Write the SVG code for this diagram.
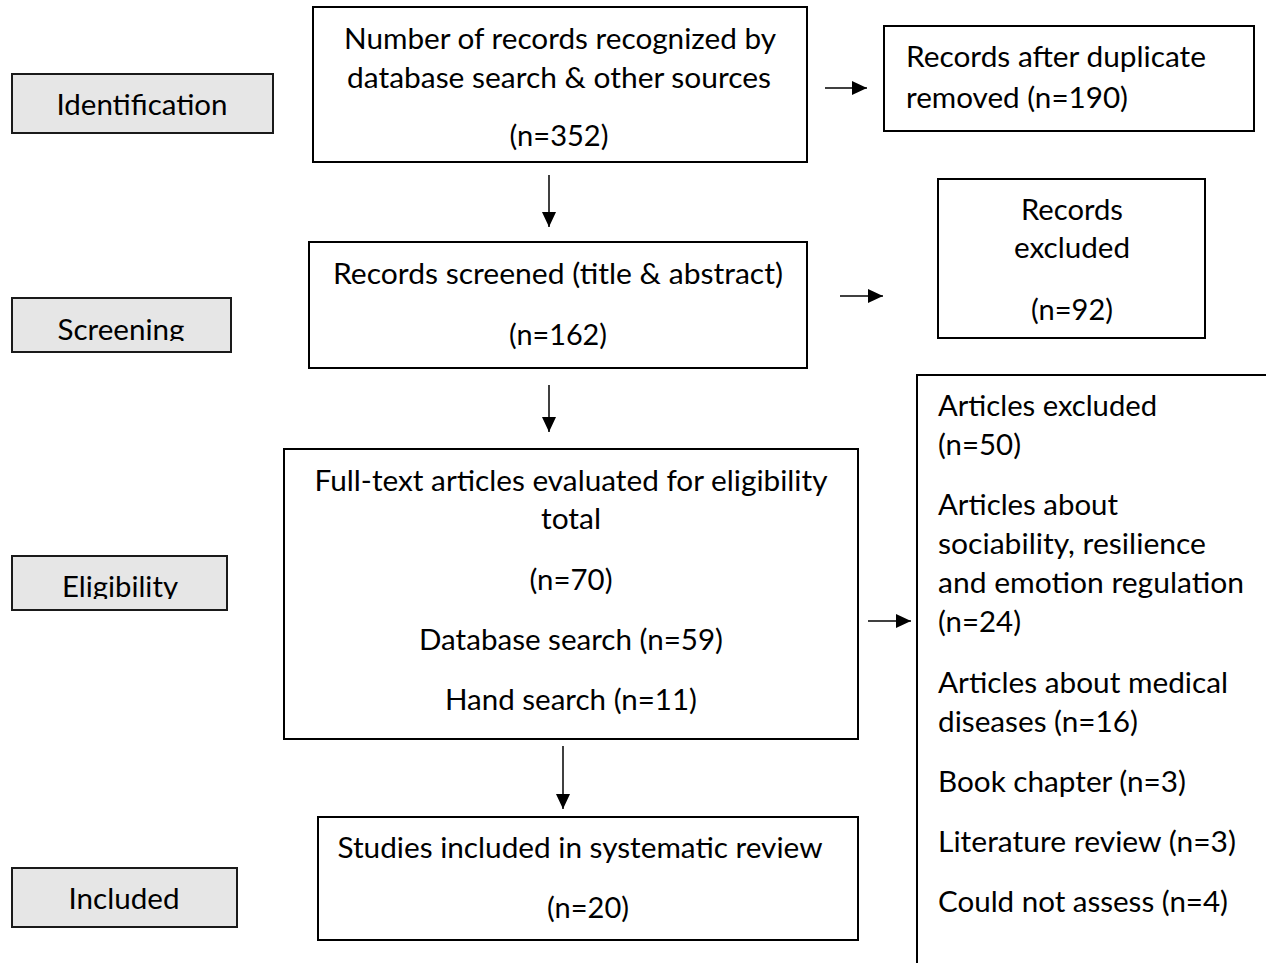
<svg xmlns="http://www.w3.org/2000/svg" width="1266" height="963" viewBox="0 0 1266 963">
<style>
.box{fill:#fff;stroke:#000;stroke-width:2}
.lab{fill:#e6e6e6;stroke:#1a1a1a;stroke-width:2}
text{font-family:Lato,"Open Sans",sans-serif;font-size:29px;fill:#000}
.c{text-anchor:middle}
.conn line{stroke:#000;stroke-width:1.5}
</style>
<defs>
<marker id="ah" viewBox="0 0 15 14" refX="15" refY="7" markerWidth="15" markerHeight="14" markerUnits="userSpaceOnUse" orient="auto"><path d="M0,0 L15,7 L0,14 Z" fill="#000"/></marker>
<clipPath id="clipS"><rect x="12" y="298" width="220" height="43"/></clipPath>
<clipPath id="clipE"><rect x="12" y="556" width="216" height="43"/></clipPath>
</defs>
<g id="stage-identification"><rect class="lab" x="12" y="74" width="261" height="59"/><text class="c" x="142" y="115" textLength="171" lengthAdjust="spacingAndGlyphs">Identification</text></g>
<g id="stage-screening"><rect class="lab" x="12" y="298" width="219" height="54"/><text class="c" x="121" y="340" textLength="127" lengthAdjust="spacingAndGlyphs" clip-path="url(#clipS)">Screening</text></g>
<g id="stage-eligibility"><rect class="lab" x="12" y="556" width="215" height="54"/><text class="c" x="120" y="597" textLength="116" lengthAdjust="spacingAndGlyphs" clip-path="url(#clipE)">Eligibility</text></g>
<g id="stage-included"><rect class="lab" x="12" y="868" width="225" height="59"/><text class="c" x="124" y="909" textLength="111" lengthAdjust="spacingAndGlyphs">Included</text></g>

<g id="n-identified"><rect class="box" x="313" y="7" width="494" height="155"/>
<text class="c" x="560" y="49" textLength="432" lengthAdjust="spacingAndGlyphs">Number of records recognized by</text>
<text class="c" x="559" y="88" textLength="424" lengthAdjust="spacingAndGlyphs">database search &amp; other sources</text>
<text class="c" x="559" y="146" textLength="99" lengthAdjust="spacingAndGlyphs">(n=352)</text></g>

<g id="n-duplicates"><rect class="box" x="884" y="26" width="370" height="105"/>
<text x="906" y="67" textLength="300" lengthAdjust="spacingAndGlyphs">Records after duplicate</text>
<text x="906" y="108" textLength="222" lengthAdjust="spacingAndGlyphs">removed (n=190)</text></g>

<g id="n-screened"><rect class="box" x="309" y="242" width="498" height="126"/>
<text class="c" x="558" y="284" textLength="450" lengthAdjust="spacingAndGlyphs">Records screened (title &amp; abstract)</text>
<text class="c" x="558" y="345" textLength="98" lengthAdjust="spacingAndGlyphs">(n=162)</text></g>

<g id="n-excluded"><rect class="box" x="938" y="179" width="267" height="159"/>
<text class="c" x="1072" y="220" textLength="102" lengthAdjust="spacingAndGlyphs">Records</text>
<text class="c" x="1072" y="258" textLength="116" lengthAdjust="spacingAndGlyphs">excluded</text>
<text class="c" x="1072" y="320" textLength="82" lengthAdjust="spacingAndGlyphs">(n=92)</text></g>

<g id="n-fulltext"><rect class="box" x="284" y="449" width="574" height="290"/>
<text class="c" x="571" y="491" textLength="513" lengthAdjust="spacingAndGlyphs">Full-text articles evaluated for eligibility</text>
<text class="c" x="571" y="529" textLength="60" lengthAdjust="spacingAndGlyphs">total</text>
<text class="c" x="571" y="590" textLength="83" lengthAdjust="spacingAndGlyphs">(n=70)</text>
<text class="c" x="571" y="650" textLength="304" lengthAdjust="spacingAndGlyphs">Database search (n=59)</text>
<text class="c" x="571" y="710" textLength="252" lengthAdjust="spacingAndGlyphs">Hand search (n=11)</text></g>

<g id="n-articles-excluded"><path d="M917,963 V375 H1266" fill="none" stroke="#000" stroke-width="2"/>
<text x="938" y="416" textLength="219" lengthAdjust="spacingAndGlyphs">Articles excluded</text>
<text x="938" y="455" textLength="83" lengthAdjust="spacingAndGlyphs">(n=50)</text>
<text x="938" y="515" textLength="180" lengthAdjust="spacingAndGlyphs">Articles about</text>
<text x="938" y="554" textLength="268" lengthAdjust="spacingAndGlyphs">sociability, resilience</text>
<text x="938" y="593" textLength="306" lengthAdjust="spacingAndGlyphs">and emotion regulation</text>
<text x="938" y="632" textLength="83" lengthAdjust="spacingAndGlyphs">(n=24)</text>
<text x="938" y="693" textLength="290" lengthAdjust="spacingAndGlyphs">Articles about medical</text>
<text x="938" y="732" textLength="200" lengthAdjust="spacingAndGlyphs">diseases (n=16)</text>
<text x="938" y="792" textLength="248" lengthAdjust="spacingAndGlyphs">Book chapter (n=3)</text>
<text x="938" y="852" textLength="298" lengthAdjust="spacingAndGlyphs">Literature review (n=3)</text>
<text x="938" y="912" textLength="290" lengthAdjust="spacingAndGlyphs">Could not assess (n=4)</text></g>

<g id="n-included"><rect class="box" x="318" y="817" width="540" height="123"/>
<text class="c" x="580" y="858" textLength="485" lengthAdjust="spacingAndGlyphs">Studies included in systematic review</text>
<text class="c" x="588" y="918" textLength="82" lengthAdjust="spacingAndGlyphs">(n=20)</text></g>

<g id="connectors" class="conn">
<line x1="825" y1="88" x2="867" y2="88" marker-end="url(#ah)"/>
<line x1="549" y1="175" x2="549" y2="227" marker-end="url(#ah)"/>
<line x1="840" y1="296" x2="883" y2="296" marker-end="url(#ah)"/>
<line x1="549" y1="385" x2="549" y2="432" marker-end="url(#ah)"/>
<line x1="868" y1="621" x2="911" y2="621" marker-end="url(#ah)"/>
<line x1="563" y1="746" x2="563" y2="809" marker-end="url(#ah)"/>
</g>
</svg>
